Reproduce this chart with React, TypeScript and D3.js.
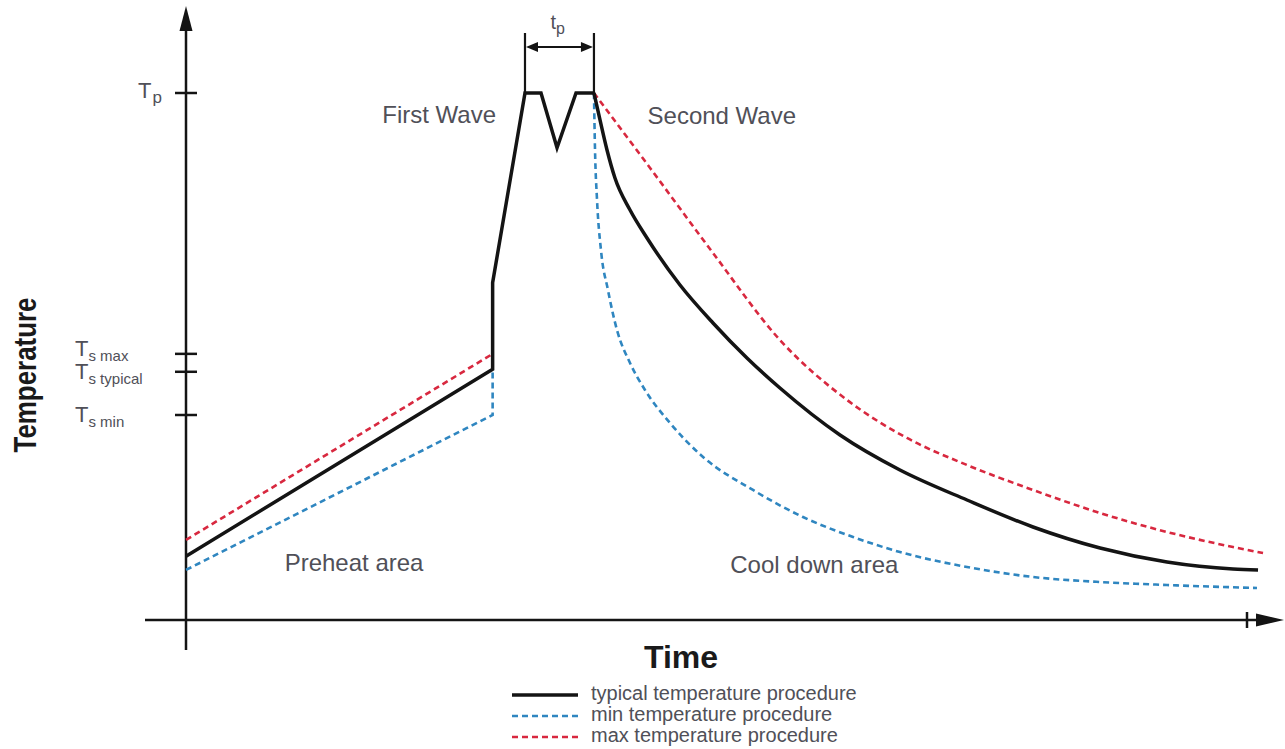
import * as d3 from "d3";

// --- data (time units / temperature units, Tp = 100) ---
type Pt = [number, number];

const tempTicks = [
  { key: "Tp", main: "T", sub: "p", value: 100 },
  { key: "TsMax", main: "T", sub: "s max", value: 50.5 },
  { key: "TsTyp", main: "T", sub: "s typical", value: 47.1 },
  { key: "TsMin", main: "T", sub: "s min", value: 38.9 },
];

// preheat + wave section (straight segments)
const typicalRamp: Pt[] = [
  [0, 12.1], [28.9, 47.6], [28.9, 64], [31.95, 100], [33.46, 100],
  [34.97, 89.6], [36.76, 100], [38.45, 100],
];
const maxRamp: Pt[] = [[0, 15.2], [28.9, 50.5]];
const minRamp: Pt[] = [[0, 9.5], [28.9, 38.9], [28.9, 47.2]];

// cool down section (smooth)
const typicalCool: Pt[] = [
  [38.45, 100], [39.02, 94.88], [39.68, 89.18], [40.43, 83.87], [41.85, 77.8],
  [43.45, 72.49], [46.56, 63.57], [49.67, 56.36], [52.87, 49.72], [55.98, 44.02],
  [61.64, 35.1], [67.29, 28.46], [73.61, 22.77], [79.83, 17.65], [86.15, 13.66],
  [92.46, 11.01], [98.68, 9.68], [101.04, 9.49],
];
const maxCool: Pt[] = [
  [38.45, 100], [43.74, 85.77], [49.67, 69.64], [55.98, 53.13], [62.3, 41.75],
  [67.95, 34.54], [73.61, 29.41], [79.83, 24.67], [86.15, 20.3], [92.46, 16.7],
  [98.68, 13.85], [101.51, 12.71],
];
const minCool: Pt[] = [
  [38.45, 100], [38.55, 89.18], [38.74, 79.7], [39.11, 70.21], [39.77, 62.62],
  [40.62, 55.03], [41.85, 48.77], [43.26, 43.64], [45.62, 37.38], [48.73, 30.93],
  [53.44, 24.67], [58.15, 19.54], [62.87, 15.75], [67.29, 12.9], [73.61, 10.06],
  [79.83, 8.16], [86.15, 7.21], [92.46, 6.64], [100.94, 6.07],
];

const areaLabels = [
  { text: "First Wave", t: 18.5, T: 94.3 },
  { text: "Second Wave", t: 43.5, T: 94.1 },
  { text: "Preheat area", t: 9.3, T: 9.3 },
  { text: "Cool down area", t: 51.3, T: 8.9 },
];

const legendItems = [
  { label: "typical temperature procedure", color: "#141414", dash: "", width: 3.5 },
  { label: "min temperature procedure", color: "#2f86c0", dash: "6,4", width: 2.6 },
  { label: "max temperature procedure", color: "#d8283f", dash: "6,4", width: 2.6 },
];

const W = 1285;
const H = 749;
const FONT = "'Liberation Sans', Arial, Helvetica, sans-serif";
const TEXT = "#505058";
const INK = "#141414";

export default function App() {
  const x = d3.scaleLinear().domain([0, 100]).range([186, 1247]);
  const y = d3.scaleLinear().domain([0, 100]).range([620, 93]);

  const straight = d3.line<Pt>().x((d) => x(d[0])).y((d) => y(d[1]));
  const smooth = d3
    .line<Pt>()
    .x((d) => x(d[0]))
    .y((d) => y(d[1]))
    .curve(d3.curveMonotoneX);

  const axisX = x(0);
  const axisY = y(0);
  const peakL = x(typicalRamp[3][0]);
  const peakR = x(typicalRamp[7][0]);
  const peakY = y(100);

  return (
    <div style={{ position: "absolute", left: 0, top: 0 }}>
      <svg width={W} height={H} style={{ display: "block", background: "#fff" }}>
        {/* axes */}
        <g stroke={INK} strokeWidth={2.5} fill="none">
          <line x1={axisX} y1={28} x2={axisX} y2={650} />
          <line x1={145} y1={axisY} x2={1258} y2={axisY} />
          <line x1={x(100)} y1={axisY - 8} x2={x(100)} y2={axisY + 8} />
          {tempTicks.map((t) => (
            <line key={t.key} x1={axisX - 11} x2={axisX + 11} y1={y(t.value)} y2={y(t.value)} />
          ))}
        </g>
        <path d={`M${axisX},6 L${axisX - 6.5},31 L${axisX + 6.5},31 Z`} fill={INK} />
        <path d={`M1284,${axisY} L1256,${axisY - 6.5} L1256,${axisY + 6.5} Z`} fill={INK} />

        {/* tick labels */}
        <g fontFamily={FONT} fill={TEXT}>
          {tempTicks.map((t) => {
            const isP = t.key === "Tp";
            const ty = y(t.value);
            const baseY = isP ? ty + 5 : t.key === "TsMax" ? ty + 2 : ty + 7;
            return (
              <text key={t.key} x={isP ? 138 : 75} y={baseY} fontSize={22}>
                {t.main}
                <tspan fontSize={isP ? 17 : 15} dy={5} dx={isP ? 1 : 0}>
                  {t.sub}
                </tspan>
              </text>
            );
          })}
        </g>

        {/* curves */}
        <g fill="none" strokeLinejoin="miter">
          <path d={straight(maxRamp) ?? ""} stroke={legendItems[2].color} strokeWidth={2.6} strokeDasharray="6,4" />
          <path d={smooth(maxCool) ?? ""} stroke={legendItems[2].color} strokeWidth={2.6} strokeDasharray="6,4" />
          <path d={straight(minRamp) ?? ""} stroke={legendItems[1].color} strokeWidth={2.6} strokeDasharray="6,4" />
          <path d={smooth(minCool) ?? ""} stroke={legendItems[1].color} strokeWidth={2.6} strokeDasharray="6,4" />
          <path d={straight(typicalRamp) ?? ""} stroke={INK} strokeWidth={3.5} />
          <path d={smooth(typicalCool) ?? ""} stroke={INK} strokeWidth={3.5} />
        </g>

        {/* tp bracket */}
        <g stroke={INK} strokeWidth={2.2}>
          <line x1={peakL} x2={peakL} y1={peakY - 60} y2={peakY} />
          <line x1={peakR} x2={peakR} y1={peakY - 60} y2={peakY} />
          <line x1={peakL + 8} x2={peakR - 8} y1={peakY - 46} y2={peakY - 46} />
        </g>
        <path
          d={`M${peakL + 1},${peakY - 46} L${peakL + 13},${peakY - 51} L${peakL + 13},${peakY - 41} Z`}
          fill={INK}
        />
        <path
          d={`M${peakR - 1},${peakY - 46} L${peakR - 13},${peakY - 51} L${peakR - 13},${peakY - 41} Z`}
          fill={INK}
        />
        <text x={(peakL + peakR) / 2 - 9} y={peakY - 64} fontFamily={FONT} fontSize={20} fill={TEXT}>
          t
          <tspan fontSize={16} dy={5}>
            p
          </tspan>
        </text>

        {/* area labels */}
        <g fontFamily={FONT} fontSize={24} fill={TEXT}>
          {areaLabels.map((l) => (
            <text key={l.text} x={x(l.t)} y={y(l.T)}>
              {l.text}
            </text>
          ))}
        </g>

        {/* axis titles */}
        <text
          x={681}
          y={668}
          textAnchor="middle"
          fontFamily={FONT}
          fontWeight="bold"
          fontSize={32}
          fill="#1a1a1a"
        >
          Time
        </text>
        <text
          transform="translate(36,375) rotate(-90)"
          textAnchor="middle"
          fontFamily="'Liberation Sans Narrow', 'Arial Narrow', 'Liberation Sans', sans-serif"
          fontWeight="bold"
          fontSize={31}
          textLength={155}
          lengthAdjust="spacingAndGlyphs"
          fill="#1a1a1a"
        >
          Temperature
        </text>

        {/* legend */}
        <g fontFamily={FONT} fontSize={20} fill={TEXT}>
          {legendItems.map((it, i) => {
            const ly = 695 + i * 21;
            return (
              <g key={it.label}>
                <line
                  x1={512}
                  x2={578}
                  y1={ly}
                  y2={ly}
                  stroke={it.color}
                  strokeWidth={it.width}
                  strokeDasharray={it.dash || undefined}
                />
                <text x={591} y={ly + 5}>
                  {it.label}
                </text>
              </g>
            );
          })}
        </g>
      </svg>
    </div>
  );
}
